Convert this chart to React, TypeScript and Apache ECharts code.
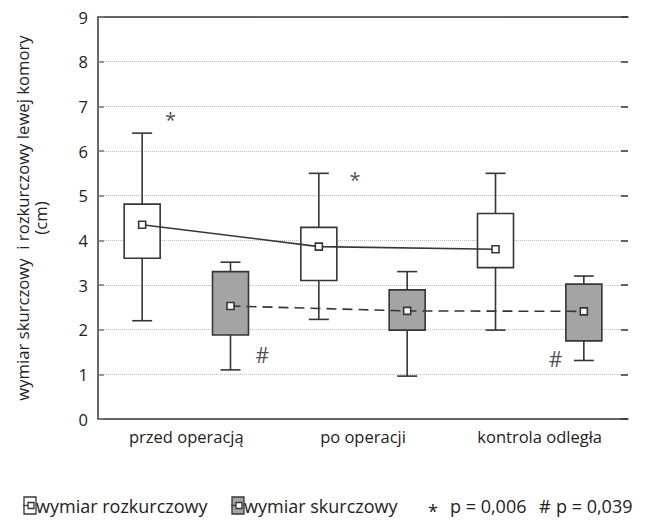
import { useEffect, useRef } from 'react';
import * as echarts from 'echarts';

const categories = ['przed operacją', 'po operacji', 'kontrola odległa'];

// whisker low, Q1, Q3, whisker high (cm)
const rozkurczowyBoxes = [
  [2.2, 3.6, 4.81, 6.4],
  [2.23, 3.1, 4.29, 5.5],
  [1.99, 3.39, 4.6, 5.5],
];
const rozkurczowyMeans = [4.35, 3.86, 3.8];

const skurczowyBoxes = [
  [1.1, 1.88, 3.3, 3.51],
  [0.96, 1.99, 2.89, 3.3],
  [1.31, 1.75, 3.02, 3.2],
];
const skurczowyMeans = [2.53, 2.42, 2.41];

// significance marks: [x position on category scale, value]
const starMarks = [
  [-0.09, 6.7],
  [0.955, 5.36],
];
const hashMarks = [
  [0.43, 1.43],
  [2.09, 1.34],
];

const legendItems = ['wymiar rozkurczowy', 'wymiar skurczowy'];
const pValueLabels = ['p = 0,006', 'p = 0,039'];

const FONT = '"Open Sans", "DejaVu Sans", sans-serif';
const INK = '#363636';
const BOX_GRAY = '#a4a4a4';
const ROZ_SHIFT = -0.25;
const SKU_SHIFT = 0.25;

function boxRenderer(fill: string) {
  return (_params: any, api: any) => {
    const x = api.value(0);
    const lo = api.coord([x, api.value(1)]);
    const q1 = api.coord([x, api.value(2)]);
    const q3 = api.coord([x, api.value(3)]);
    const hi = api.coord([x, api.value(4)]);
    const cx = lo[0];
    const hw = 18;
    const cw = 10;
    const stroke = { stroke: INK, lineWidth: 1.6 };
    return {
      type: 'group',
      children: [
        { type: 'line', shape: { x1: cx, y1: hi[1], x2: cx, y2: q3[1] }, style: stroke },
        { type: 'line', shape: { x1: cx, y1: q1[1], x2: cx, y2: lo[1] }, style: stroke },
        { type: 'line', shape: { x1: cx - cw, y1: hi[1], x2: cx + cw, y2: hi[1] }, style: stroke },
        { type: 'line', shape: { x1: cx - cw, y1: lo[1], x2: cx + cw, y2: lo[1] }, style: stroke },
        {
          type: 'rect',
          shape: { x: cx - hw, y: q3[1], width: hw * 2, height: q1[1] - q3[1] },
          style: { ...stroke, fill },
        },
      ],
    };
  };
}

function legendIcon(x: number, fill: string) {
  return {
    type: 'group',
    children: [
      { type: 'rect', shape: { x, y: 497, width: 12, height: 17 }, style: { fill, stroke: INK, lineWidth: 1.3 } },
      { type: 'line', shape: { x1: x - 1, y1: 505.5, x2: x + 4, y2: 505.5 }, style: { stroke: INK, lineWidth: 1.3 } },
      { type: 'rect', shape: { x: x + 4, y: 502.5, width: 6, height: 6 }, style: { fill: '#fff', stroke: INK, lineWidth: 1.3 } },
    ],
  };
}

const legendText = (x: number, text: string, size = 18, y = 506) => ({
  type: 'text',
  x,
  y,
  style: { text, fontFamily: FONT, fontSize: size, fill: '#222', verticalAlign: 'middle' },
});

export default function App() {
  const ref = useRef<HTMLDivElement>(null);

  useEffect(() => {
    if (!ref.current) return;
    const chart = echarts.init(ref.current, null, { renderer: 'svg' });

    const meanSeries = (name: string, means: number[], shift: number, dashed: boolean) => ({
      type: 'line',
      name,
      xAxisIndex: 2,
      yAxisIndex: 0,
      data: means.map((m, i) => [i + shift, m]),
      symbol: 'rect',
      symbolSize: 7,
      z: 5,
      lineStyle: { color: INK, width: 1.6, type: dashed ? [10, 6] : 'solid' },
      itemStyle: { color: '#fff', borderColor: INK, borderWidth: 1.6 },
    });

    const markSeries = (marks: number[][], text: string, size: number) => ({
      type: 'scatter',
      xAxisIndex: 2,
      yAxisIndex: 0,
      data: marks,
      symbolSize: 0,
      silent: true,
      label: {
        show: true,
        position: 'inside',
        formatter: text,
        fontFamily: FONT,
        fontSize: size,
        color: '#1e1e1e',
      },
    });

    const tickStyle = { color: INK, width: 1.5 };

    chart.setOption({
      animation: false,
      backgroundColor: '#fff',
      grid: { left: 98, right: 18, top: 17, bottom: 103, containLabel: false },
      xAxis: [
        {
          type: 'category',
          data: categories,
          position: 'bottom',
          boundaryGap: true,
          axisLine: { onZero: false, lineStyle: tickStyle },
          axisTick: { inside: true, alignWithLabel: true, length: 7, lineStyle: tickStyle },
          axisLabel: { fontFamily: FONT, fontSize: 16.5, color: '#222', margin: 9 },
          splitLine: { show: false },
        },
        {
          type: 'category',
          data: categories,
          position: 'top',
          boundaryGap: true,
          axisLine: { onZero: false, lineStyle: tickStyle },
          axisTick: { inside: true, alignWithLabel: true, length: 7, lineStyle: tickStyle },
          axisLabel: { show: false },
          splitLine: { show: false },
        },
        {
          type: 'value',
          min: -0.5,
          max: 2.5,
          show: false,
        },
      ],
      yAxis: [
        {
          type: 'value',
          min: 0,
          max: 9,
          interval: 1,
          position: 'left',
          name: 'wymiar skurczowy  i rozkurczowy lewej komory\n(cm)',
          nameLocation: 'middle',
          nameRotate: 90,
          nameGap: 49,
          nameTextStyle: { fontFamily: FONT, fontSize: 16.7, color: '#222', lineHeight: 18 },
          axisLine: { show: true, onZero: false, lineStyle: tickStyle },
          axisTick: { show: true, inside: true, length: 6, lineStyle: { color: '#777', width: 1.5 } },
          axisLabel: { fontFamily: FONT, fontSize: 16.5, color: '#222', margin: 10 },
          splitLine: { show: true, lineStyle: { color: '#bdbdbd', width: 1, type: [1, 1] } },
        },
        {
          type: 'value',
          min: 0,
          max: 9,
          interval: 1,
          position: 'right',
          axisLine: { show: false, onZero: false },
          axisTick: { show: true, inside: true, length: 7, lineStyle: tickStyle },
          axisLabel: { show: false },
          splitLine: { show: false },
        },
      ],
      series: [
        {
          type: 'custom',
          name: legendItems[0],
          xAxisIndex: 2,
          yAxisIndex: 0,
          renderItem: boxRenderer('#fff'),
          encode: { x: 0, y: [1, 2, 3, 4] },
          data: rozkurczowyBoxes.map((b, i) => [i + ROZ_SHIFT, ...b]),
          z: 3,
        },
        {
          type: 'custom',
          name: legendItems[1],
          xAxisIndex: 2,
          yAxisIndex: 0,
          renderItem: boxRenderer(BOX_GRAY),
          encode: { x: 0, y: [1, 2, 3, 4] },
          data: skurczowyBoxes.map((b, i) => [i + SKU_SHIFT, ...b]),
          z: 3,
        },
        meanSeries(legendItems[0], rozkurczowyMeans, ROZ_SHIFT, false),
        meanSeries(legendItems[1], skurczowyMeans, SKU_SHIFT, true),
        markSeries(starMarks, '*', 20),
        markSeries(hashMarks, '#', 21),
      ],
      graphic: [
        legendIcon(24, '#fff'),
        legendText(36, legendItems[0]),
        legendIcon(232, BOX_GRAY),
        legendText(244, legendItems[1]),
        legendText(428, '*', 18, 511),
        legendText(539, '#', 18),
        legendText(450, pValueLabels[0]),
        legendText(556, pValueLabels[1]),
      ],
    });

    return () => chart.dispose();
  }, []);

  return (
    <div
      ref={ref}
      style={{ position: 'absolute', left: 0, top: 0, width: 646, height: 522 }}
    />
  );
}
